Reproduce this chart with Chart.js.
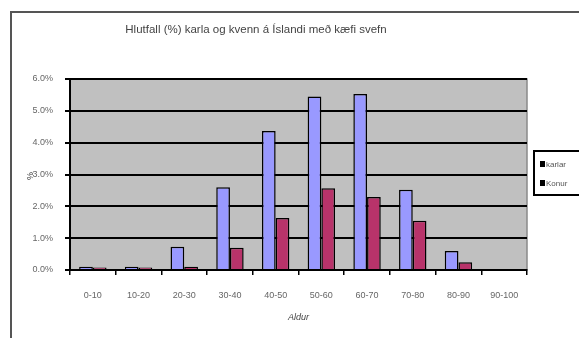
<!DOCTYPE html>
<html>
<head>
<meta charset="utf-8">
<script src="https://cdn.jsdelivr.net/npm/chart.js@4"></script>
<style>
html,body{margin:0;padding:0;background:#fff;}
#wrap{width:579px;height:338px;position:relative;}
</style>
</head>
<body>
<div id="wrap"><canvas id="c" width="579" height="338"></canvas></div>
<script>
const chartTitle = 'Hlutfall (%) karla og kvenn á Íslandi með kæfi svefn';
const categories = ['0-10','10-20','20-30','30-40','40-50','50-60','60-70','70-80','80-90','90-100'];
const seriesNames = ['karlar','Konur'];
const karlar = [0.1, 0.1, 0.73, 2.6, 4.37, 5.45, 5.53, 2.52, 0.6, 0];
const konur  = [0.08, 0.08, 0.1, 0.7, 1.63, 2.57, 2.29, 1.55, 0.24, 0];
const yTicks = [0, 1, 2, 3, 4, 5, 6];
const xTitle = 'Aldur';
const yTitle = '%';

const FONT = '"Liberation Sans", Arial, sans-serif';

const deco = {
  id: 'deco',
  beforeDraw(chart) {
    const ctx = chart.ctx, a = chart.chartArea;
    ctx.save();
    ctx.fillStyle = '#fff';
    ctx.fillRect(0, 0, chart.width, chart.height);
    ctx.strokeStyle = '#555';
    ctx.lineWidth = 2;
    ctx.beginPath();
    ctx.moveTo(11, chart.height + 2);
    ctx.lineTo(11, 12);
    ctx.lineTo(chart.width + 2, 12);
    ctx.stroke();
    ctx.fillStyle = '#c0c0c0';
    ctx.fillRect(a.left, a.top, a.right - a.left, a.bottom - a.top);
    ctx.strokeStyle = '#8a8a8a';
    ctx.lineWidth = 1.5;
    ctx.strokeRect(a.left, a.top, a.right - a.left, a.bottom - a.top);
    ctx.restore();
  },
  afterDraw(chart) {
    const ctx = chart.ctx;
    ctx.save();
    ctx.fillStyle = '#444';
    ctx.font = '11.5px ' + FONT;
    ctx.textAlign = 'center';
    ctx.textBaseline = 'middle';
    ctx.fillText(chartTitle, 256, 30);
    ctx.save();
    ctx.translate(31, 176);
    ctx.rotate(-Math.PI / 2);
    ctx.fillStyle = '#333';
    ctx.font = '9px ' + FONT;
    ctx.fillText(yTitle, 0, 0);
    ctx.restore();
    ctx.fillStyle = '#fff';
    ctx.fillRect(534, 151, 60, 44);
    ctx.strokeStyle = '#000';
    ctx.lineWidth = 2;
    ctx.strokeRect(534, 151, 60, 44);
    ctx.font = '8px ' + FONT;
    ctx.textAlign = 'left';
    chart.data.datasets.forEach((ds, i) => {
      const y = 164 + i * 19;
      ctx.fillStyle = '#000';
      ctx.fillRect(540, y - 3, 5, 6);
      ctx.fillStyle = '#555';
      ctx.fillText(ds.label, 546, y + 1);
    });
    ctx.restore();
  }
};

new Chart(document.getElementById('c'), {
  type: 'bar',
  data: {
    labels: categories,
    datasets: [
      { label: seriesNames[0], data: karlar, backgroundColor: '#9999ff', borderColor: '#000', borderWidth: 1.5 },
      { label: seriesNames[1], data: konur, backgroundColor: '#b8336a', borderColor: '#000', borderWidth: 1.5 }
    ]
  },
  options: {
    responsive: false,
    animation: false,
    layout: { padding: { left: 0, right: 52, top: 79, bottom: 8 } },
    plugins: { legend: { display: false }, title: { display: false }, tooltip: { enabled: false } },
    datasets: { bar: { categoryPercentage: 0.6, barPercentage: 1.0 } },
    scales: {
      x: {
        afterFit(s) { s.height = 60; },
        grid: { display: true, offset: true, drawOnChartArea: false, drawTicks: true, tickLength: 5, color: '#000', lineWidth: 1.5 },
        border: { display: true, color: '#000', width: 2 },
        ticks: { color: '#666', font: { size: 9, family: FONT }, padding: 15, maxRotation: 0, autoSkip: false },
        title: { display: true, text: xTitle, color: '#444', font: { size: 9, style: 'italic', family: FONT }, padding: { top: 6, bottom: 7 } }
      },
      y: {
        min: 0, max: 6,
        afterFit(s) { s.width = 70; },
        afterBuildTicks(s) { s.ticks = yTicks.map(v => ({ value: v })); },
        grid: { color: '#000', lineWidth: 2, drawTicks: true, tickLength: 5 },
        border: { display: true, color: '#000', width: 2 },
        ticks: { color: '#666', font: { size: 9, family: FONT }, padding: 12, callback: v => v.toFixed(1) + '%' }
      }
    }
  },
  plugins: [deco]
});
</script>
</body>
</html>
